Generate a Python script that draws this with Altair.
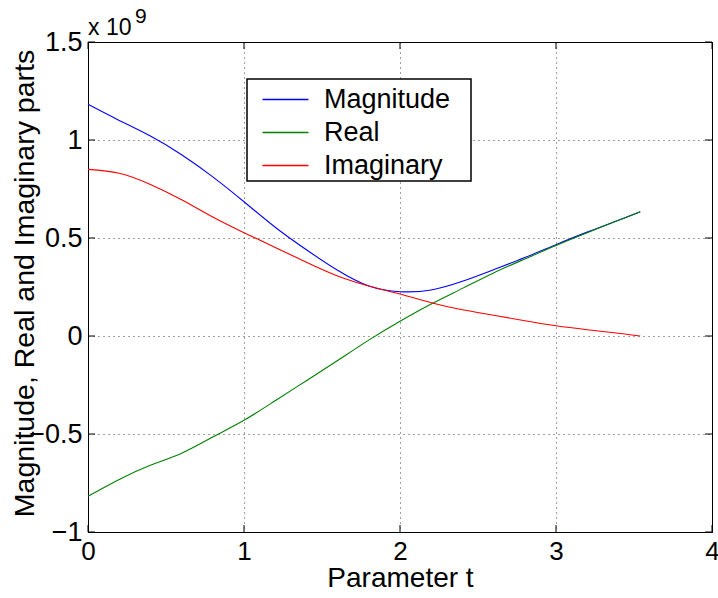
import altair as alt
import pandas as pd

# ---- data (values in units of 1e9) ----
t_values = [0, 0.2, 0.4, 0.6, 0.8, 1.0, 1.2, 1.4, 1.6, 1.8, 2.0, 2.2, 2.4, 2.6, 2.8, 3.0, 3.2, 3.4, 3.54]
magnitude = [1.182, 1.10, 1.02, 0.925, 0.812, 0.685, 0.555, 0.44, 0.335, 0.255, 0.226, 0.235, 0.279, 0.338, 0.40, 0.466, 0.53, 0.59, 0.634]
real_part = [-0.818, -0.732, -0.66, -0.598, -0.515, -0.43, -0.33, -0.228, -0.125, -0.021, 0.075, 0.163, 0.243, 0.322, 0.393, 0.462, 0.527, 0.59, 0.634]
imag_part = [0.85, 0.830, 0.773, 0.695, 0.607, 0.527, 0.452, 0.376, 0.306, 0.255, 0.214, 0.17, 0.134, 0.106, 0.078, 0.052, 0.032, 0.014, 0.0]

series_names = ["Magnitude", "Real", "Imaginary"]
series_colors = ["#0000ff", "#008000", "#ff0000"]
x_ticks = [0, 1, 2, 3, 4]
y_ticks = [-1, -0.5, 0, 0.5, 1, 1.5]
x_title = "Parameter t"
y_title = "Magnitude, Real and Imaginary parts"
exp_base = "x 10"
exp_power = "9"

rows = []
for name, vals in zip(series_names, [magnitude, real_part, imag_part]):
    for tv, v in zip(t_values, vals):
        rows.append({"t": tv, "value": v, "series": name})
df = pd.DataFrame(rows)

W, H = 624, 490
FONT = "Liberation Sans"
xs = alt.Scale(domain=[0, 4], nice=False, zero=False)
ys = alt.Scale(domain=[-1, 1.5], nice=False, zero=False)

x_axis = alt.Axis(
    values=x_ticks, format="d", title=x_title, grid=True, ticks=False, labelFlush=False,
    labelPadding=6, labelFontSize=26, labelFont=FONT, labelColor="black",
    titleFontSize=28, titleFont=FONT, titleFontWeight="normal", titleColor="black",
    titleY=54, titleBaseline="alphabetic", domainColor="black")
y_axis = alt.Axis(
    values=y_ticks, format="~g", title=y_title, grid=True, ticks=False, labelFlush=False,
    labelPadding=6, labelFontSize=27, labelFont=FONT, labelColor="black",
    titleFontSize=28.5, titleFont=FONT, titleFontWeight="normal", titleColor="black",
    titleX=-55, titleY=H / 2 - 4, titleAngle=270, titleBaseline="alphabetic",
    domainColor="black")

# legend frame (drawn as a plain box behind the legend entries)
legend_box = alt.Chart(pd.DataFrame({"k": [0]})).mark_rect(
    fill="white", stroke="black", strokeWidth=1.5).encode(
    x=alt.value(159), x2=alt.value(383), y=alt.value(37), y2=alt.value(139))

lines = alt.Chart(df).mark_line(strokeWidth=1.1, interpolate="natural").encode(
    x=alt.X("t:Q", scale=xs, axis=x_axis),
    y=alt.Y("value:Q", scale=ys, axis=y_axis),
    color=alt.Color("series:N", scale=alt.Scale(domain=series_names, range=series_colors),
                    legend=alt.Legend(
                        orient="none", legendX=159, legendY=37, title=None,
                        symbolType="M-4,0H4", symbolSize=132, symbolStrokeWidth=1.5,
                        symbolOffset=18, labelOffset=25,
                        labelFontSize=27, labelFont=FONT, labelColor="black",
                        padding=7, rowPadding=5)),
    detail="series:N",
)

ytdf = pd.DataFrame({"v": y_ticks})
xtdf = pd.DataFrame({"v": x_ticks})
tick_len = 7
left_ticks = alt.Chart(ytdf).mark_rule(color="black", strokeWidth=1).encode(
    y=alt.Y("v:Q", scale=ys, axis=y_axis), x=alt.value(0), x2=alt.value(tick_len))
right_ticks = alt.Chart(ytdf).mark_rule(color="black", strokeWidth=1).encode(
    y=alt.Y("v:Q", scale=ys, axis=y_axis), x=alt.value(W - tick_len), x2=alt.value(W))
bottom_ticks = alt.Chart(xtdf).mark_rule(color="black", strokeWidth=1).encode(
    x=alt.X("v:Q", scale=xs, axis=x_axis), y=alt.value(H - tick_len), y2=alt.value(H))
top_ticks = alt.Chart(xtdf).mark_rule(color="black", strokeWidth=1).encode(
    x=alt.X("v:Q", scale=xs, axis=x_axis), y=alt.value(0), y2=alt.value(tick_len))

exp_df = pd.DataFrame({"base": [exp_base], "power": [exp_power]})
exp_base_txt = alt.Chart(exp_df).mark_text(
    align="left", baseline="alphabetic", fontSize=23, font=FONT, color="black").encode(
    text="base:N", x=alt.value(0), y=alt.value(-7))
exp_power_txt = alt.Chart(exp_df).mark_text(
    align="left", baseline="alphabetic", fontSize=21, font=FONT, color="black").encode(
    text="power:N", x=alt.value(47), y=alt.value(-19))

chart = alt.layer(lines, legend_box, left_ticks, right_ticks, bottom_ticks, top_ticks,
                  exp_base_txt, exp_power_txt).properties(
    width=W, height=H,
    autosize=alt.AutoSizeParams(type="none"),
    padding={"left": 88, "top": 42, "right": 6, "bottom": 66},
    background="white",
).configure_view(
    stroke="black", strokeWidth=1
).configure_axis(
    gridDash=[1, 4], gridColor="#000000", gridOpacity=0.75, gridWidth=1, domainWidth=1
)

chart.save("out.html", embed_options={"renderer": "svg", "actions": False})
